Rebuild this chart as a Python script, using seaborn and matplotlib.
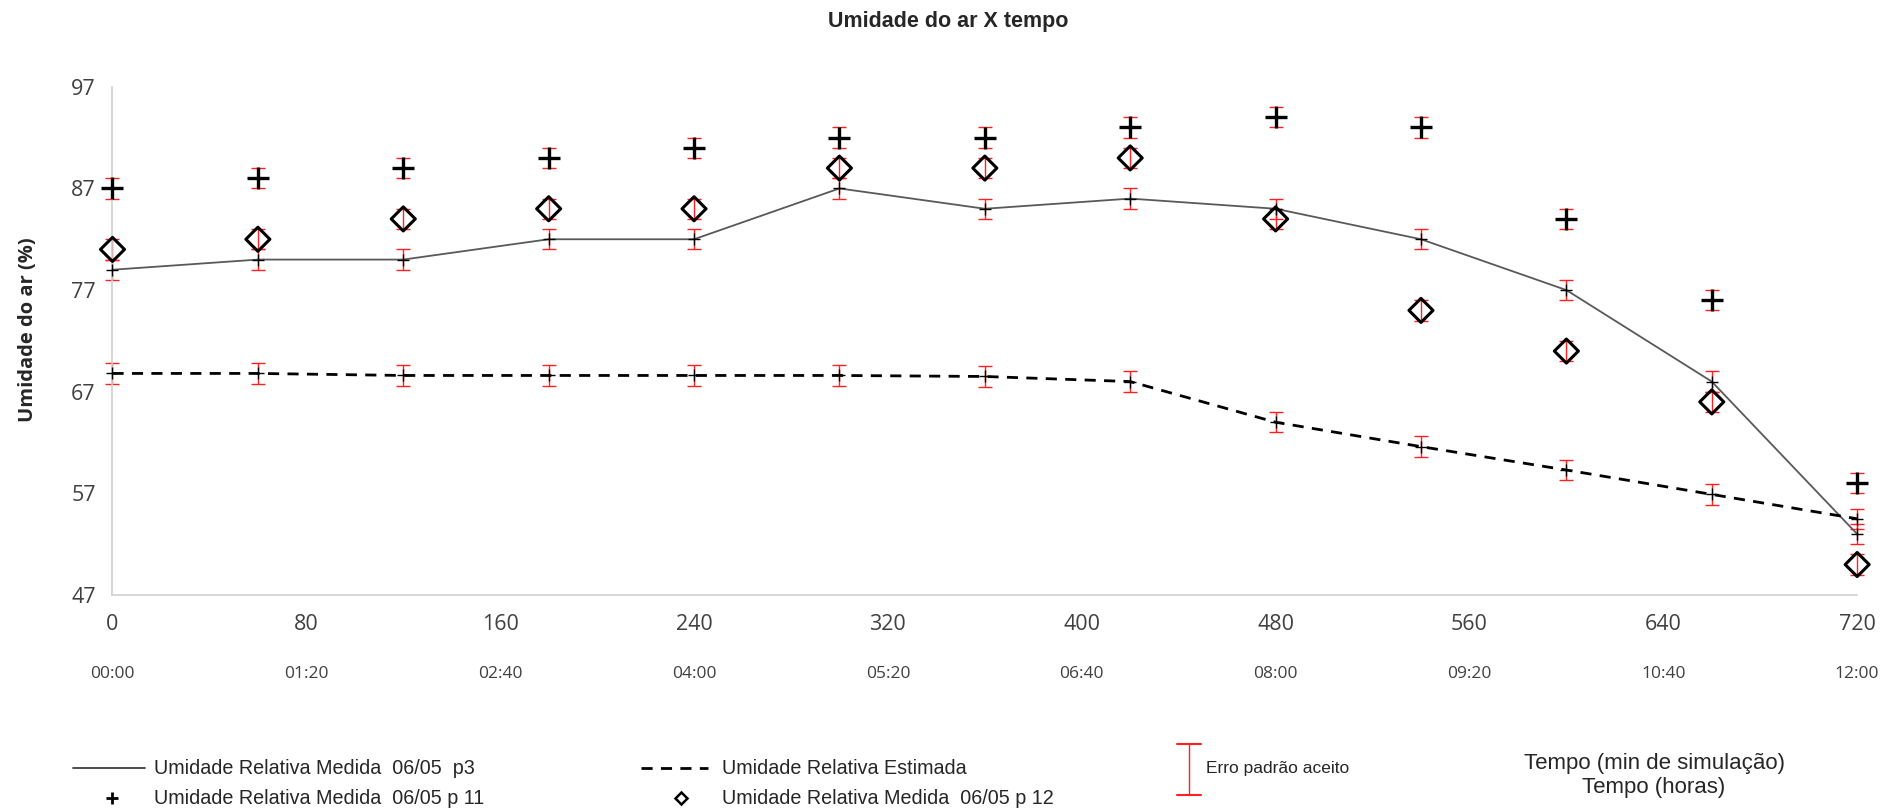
import matplotlib
matplotlib.use("Agg")
import matplotlib.pyplot as plt
from matplotlib.lines import Line2D
import seaborn as sns
import pandas as pd

# ---- data ----
minutos = [0, 60, 120, 180, 240, 300, 360, 420, 480, 540, 600, 660, 720]
p3 = [79, 80, 80, 82, 82, 87, 85, 86, 85, 82, 77, 68, 53]
estimada = [68.8, 68.8, 68.6, 68.6, 68.6, 68.6, 68.5, 68, 64, 61.6, 59.3, 56.9, 54.5]
p11 = [87, 88, 89, 90, 91, 92, 92, 93, 94, 93, 84, 76, 58]
p12 = [81, 82, 84, 85, 85, 89, 89, 90, 84, 75, 71, 66, 50]
erro = 1.0
xticks = [0, 80, 160, 240, 320, 400, 480, 560, 640, 720]
horas = ["00:00", "01:20", "02:40", "04:00", "05:20", "06:40", "08:00", "09:20", "10:40", "12:00"]
yticks = [47, 57, 67, 77, 87, 97]

titulo = "Umidade do ar X tempo"
ylabel = "Umidade do ar (%)"
leg_p3 = "Umidade Relativa Medida  06/05  p3"
leg_est = "Umidade Relativa Estimada"
leg_p11 = "Umidade Relativa Medida  06/05 p 11"
leg_p12 = "Umidade Relativa Medida  06/05 p 12"
leg_err = "Erro padrão aceito"
xlabel1 = "Tempo (min de simulação)"
xlabel2 = "Tempo (horas)"

df = pd.DataFrame({"min": minutos, "p3": p3, "est": estimada, "p11": p11, "p12": p12})

sns.set_style("white")
plt.rcParams["font.family"] = ["Open Sans", "DejaVu Sans"]
narrow = ["Liberation Sans Narrow", "Liberation Sans", "DejaVu Sans"]

fig = plt.figure(figsize=(18.97, 8.11), dpi=100)
ax = fig.add_axes([0.0593, 0.2663, 0.979 - 0.0593, 0.893 - 0.2663])

red = "#ff2020"
for col in ["p3", "est", "p11", "p12"]:
    ax.errorbar(df["min"], df[col], yerr=erro, fmt="none", ecolor=red,
                elinewidth=1.0, capsize=5, capthick=1.0, zorder=2)

sns.lineplot(data=df, x="min", y="p3", ax=ax, color="#595959", lw=1.3,
             marker="+", markersize=9, markeredgewidth=1.0, markeredgecolor="black", zorder=3)
sns.lineplot(data=df, x="min", y="est", ax=ax, color="black", lw=2.0,
             marker="+", markersize=9, markeredgewidth=1.0,
             markeredgecolor="black", zorder=3)
ax.lines[-1].set_linestyle((0, (4, 3)))
sns.scatterplot(data=df, x="min", y="p11", ax=ax, marker="+", s=260,
                color="black", linewidth=2.4, zorder=4)
sns.scatterplot(data=df, x="min", y="p12", ax=ax, marker="D", s=150,
                facecolor="none", edgecolor="black", linewidth=2.2, zorder=4)

ax.set_xlim(0, 720)
ax.set_ylim(47, 97)
ax.set_xticks(xticks)
ax.set_yticks(yticks)
ax.set_xlabel("")
ax.set_ylabel("")
ax.tick_params(axis="both", length=0, labelsize=15.5, colors="#404040")
ax.tick_params(axis="x", pad=14)
ax.tick_params(axis="y", pad=12)
for s in ["top", "right"]:
    ax.spines[s].set_visible(False)
for s in ["left", "bottom"]:
    ax.spines[s].set_color("#d0d0d0")
    ax.spines[s].set_linewidth(1.2)
for c in ax.collections:
    c.set_clip_on(False)
for l in ax.lines:
    l.set_clip_on(False)

trans = ax.get_xaxis_transform()
for xv, h in zip(xticks, horas):
    ax.text(xv, -0.155, h, transform=trans, ha="center", va="center",
            fontsize=12.5, color="#404040")

fig.text(0.5, 0.973, titulo, ha="center", va="center", fontsize=15.5,
         fontweight="bold", family=narrow)
fig.text(0.015, 0.594, ylabel, rotation=90, ha="center", va="center",
         fontsize=14.5, fontweight="bold")

# legend (drawn manually)
W, H = 1897.0, 811.0
def fx(p):
    return p / W
def fy(p):
    return 1 - p / H

LS = 14.2
fig.add_artist(Line2D([fx(73), fx(145)], [fy(768), fy(768)], color="#404040", lw=1.3))
fig.text(fx(154), fy(768), leg_p3, ha="left", va="center", fontsize=LS, family=narrow)
fig.add_artist(Line2D([fx(641), fx(708)], [fy(768), fy(768)], color="black", lw=2.0,
                      linestyle=(0, (4, 3))))
fig.text(fx(722), fy(768), leg_est, ha="left", va="center", fontsize=LS, family=narrow)
fig.add_artist(Line2D([fx(112)], [fy(798)], marker="+", color="black", ms=9, mew=2, lw=0))
fig.text(fx(154), fy(798), leg_p11, ha="left", va="center", fontsize=LS, family=narrow)
fig.add_artist(Line2D([fx(681)], [fy(798)], marker="D", mfc="none", mec="black", ms=6,
                      mew=1.8, lw=0))
fig.text(fx(722), fy(798), leg_p12, ha="left", va="center", fontsize=LS, family=narrow)

fig.add_artist(Line2D([fx(1189), fx(1189)], [fy(744), fy(795)], color=red, lw=1.0))
fig.add_artist(Line2D([fx(1177), fx(1201)], [fy(744), fy(744)], color=red, lw=1.5))
fig.add_artist(Line2D([fx(1177), fx(1201)], [fy(795), fy(795)], color=red, lw=1.5))
fig.text(fx(1206), fy(769), leg_err, ha="left", va="center", fontsize=12.5, family=narrow)

fig.text(fx(1654), fy(764), xlabel1, ha="center", va="center", fontsize=16, family=narrow)
fig.text(fx(1654), fy(788), xlabel2, ha="center", va="center", fontsize=16, family=narrow)

fig.savefig("out.png", dpi=100)
